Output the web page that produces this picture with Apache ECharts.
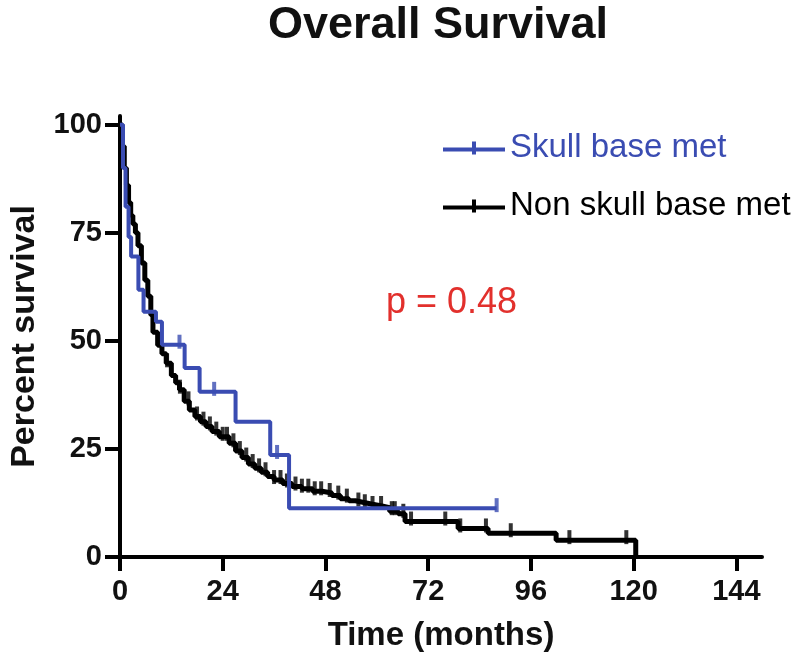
<!DOCTYPE html>
<html>

<head>
    <meta charset="utf-8">
    <title>Overall Survival</title>
    <style>
        html, body { margin: 0; padding: 0; background: #fff; }
        #chart { width: 800px; height: 661px; }
    </style>
</head>

<body>
    <div id="chart"></div>
    <script src="https://cdn.jsdelivr.net/npm/echarts@6/dist/echarts.min.js"></script>
    <script>
    // KM steps: [months, percent surviving from that time on]
    var skullSteps = [
        [0, 100], [0.7, 90], [1.3, 81], [2.0, 74], [2.6, 69.5], [4.3, 61.8],
        [5.5, 56.7], [8.4, 54.4], [9.8, 49.1], [15.1, 43.7], [18.6, 38.2],
        [27, 31.3], [35.1, 23.6], [39.5, 11.3], [88, 11.3]
    ];
    var skullCensored = [13.9, 22, 36.7, 88];

    var nonSkullSteps = [
        [0, 100], [0.5, 95], [1, 90], [1.5, 86], [2, 82], [2.5, 79], [3, 77],
        [3.6, 75], [4.2, 72], [5, 68], [5.8, 64], [6.5, 60.3], [7.2, 56],
        [7.7, 52], [8.8, 49], [9.8, 47], [10.8, 44.8], [12, 42], [13, 40.3],
        [13.9, 38.7], [15, 36], [16.2, 34], [17.5, 32.5], [18.8, 31.3],
        [20.1, 30.2], [21.5, 29], [23.2, 27.8], [25.5, 26.3], [27, 24.5],
        [28.5, 23], [30, 21.5], [31.5, 20.5], [33, 19.6], [34.5, 18.6],
        [36, 17.8], [38, 17], [40.2, 16.3], [42.5, 15.8], [45, 15.2],
        [47.2, 14.8], [49.5, 14.2], [51.5, 13.5], [53.5, 13], [55, 12.6],
        [57, 12.2], [59, 11.8], [61.2, 11.4], [63, 10.6], [65, 10],
        [66.6, 8.2], [79, 6.6], [86, 5.5], [101.9, 3.9], [120.5, 0]
    ];
    var nonSkullCensored = [
        11, 14, 16, 18, 19.5, 21, 22.5, 24, 25, 26.5, 28, 29.5, 31, 32.5, 34,
        36, 37.5, 39, 41, 42.5, 44, 45.5, 47, 49, 51, 53, 55.7, 57.2, 59, 61,
        63.5, 64.2, 66.2, 68, 76, 79.5, 85.5, 91.3, 105, 118.3
    ];

    var xTicks = [0, 24, 48, 72, 96, 120, 144];
    var yTicks = [0, 25, 50, 75, 100];

    var blue = '#3a4cb2';
    var font = 'Liberation Sans, Arial, sans-serif';

    // survival value at time t
    function survAt(steps, t) {
        var v = steps[0][1];
        for (var i = 0; i < steps.length; i++) {
            if (steps[i][0] <= t) v = steps[i][1];
        }
        return v;
    }
    function censorPoints(steps, times) {
        return times.map(function(t) { return [t, survAt(steps, t)]; });
    }

    var legendIcon = 'path://M0,6h62v4h-62z M29,0h4v13h-4z';

    var myChart = echarts.init(document.getElementById('chart'));
    var option = {
        animation: false,
        title: {
            text: 'Overall Survival',
            left: 433,
            textAlign: 'center',
            top: -2,
            textStyle: { fontFamily: font, fontSize: 45, fontWeight: 'bold', color: '#111' }
        },
        legend: {
            orient: 'vertical',
            left: 438,
            top: 126,
            itemWidth: 62,
            itemHeight: 13,
            itemGap: 24,
            data: [
                { name: 'Skull base met', icon: legendIcon, itemStyle: { color: blue }, textStyle: { color: blue } },
                { name: 'Non skull base met', icon: legendIcon, itemStyle: { color: '#000' }, textStyle: { color: '#000' } }
            ],
            textStyle: { fontFamily: font, fontSize: 33, lineHeight: 34, padding: [0, 0, 0, 0] }
        },
        graphic: [{
            type: 'text',
            left: 386,
            top: 285,
            style: { text: 'p = 0.48', fill: '#e2302c', fontFamily: font, fontSize: 36 }
        }],
        grid: { left: 117, right: 38, top: 116, bottom: 104 },
        xAxis: {
            type: 'value',
            min: 0,
            max: 150,
            name: 'Time (months)',
            nameLocation: 'middle',
            nameGap: 62,
            nameTextStyle: { fontFamily: font, fontSize: 33, fontWeight: 'bold', color: '#111' },
            axisLine: { lineStyle: { color: '#000', width: 4 } },
            axisTick: { customValues: xTicks, length: 14, lineStyle: { color: '#000', width: 4 } },
            axisLabel: { customValues: xTicks, margin: 20, fontFamily: font, fontSize: 29, fontWeight: 'bold', color: '#111' },
            splitLine: { show: false }
        },
        yAxis: {
            type: 'value',
            min: 0,
            max: 102,
            name: 'Percent survival',
            nameLocation: 'middle',
            nameGap: 78,
            nameTextStyle: { fontFamily: font, fontSize: 34, fontWeight: 'bold', color: '#111' },
            axisLine: { lineStyle: { color: '#000', width: 4 } },
            axisTick: { customValues: yTicks, length: 15, lineStyle: { color: '#000', width: 4 } },
            axisLabel: { customValues: yTicks, margin: 18, fontFamily: font, fontSize: 29, fontWeight: 'bold', color: '#111' },
            splitLine: { show: false }
        },
        series: [{
            name: 'Non skull base met',
            type: 'line',
            step: 'end',
            showSymbol: false,
            data: nonSkullSteps,
            lineStyle: { color: '#000', width: 5 },
            itemStyle: { color: '#000' },
            z: 2
        }, {
            name: 'Non skull base met',
            type: 'scatter',
            symbol: 'rect',
            symbolSize: [4, 14],
            symbolOffset: [0, -3],
            data: censorPoints(nonSkullSteps, nonSkullCensored),
            itemStyle: { color: '#000' },
            z: 2
        }, {
            name: 'Skull base met',
            type: 'line',
            step: 'end',
            showSymbol: false,
            data: skullSteps,
            lineStyle: { color: blue, width: 4 },
            itemStyle: { color: blue },
            z: 3
        }, {
            name: 'Skull base met',
            type: 'scatter',
            symbol: 'rect',
            symbolSize: [4, 14],
            symbolOffset: [0, -3],
            data: censorPoints(skullSteps, skullCensored),
            itemStyle: { color: blue },
            z: 3
        }]
    };
    myChart.setOption(option);
    addEventListener('resize', myChart.resize);
    </script>
</body>

</html>
